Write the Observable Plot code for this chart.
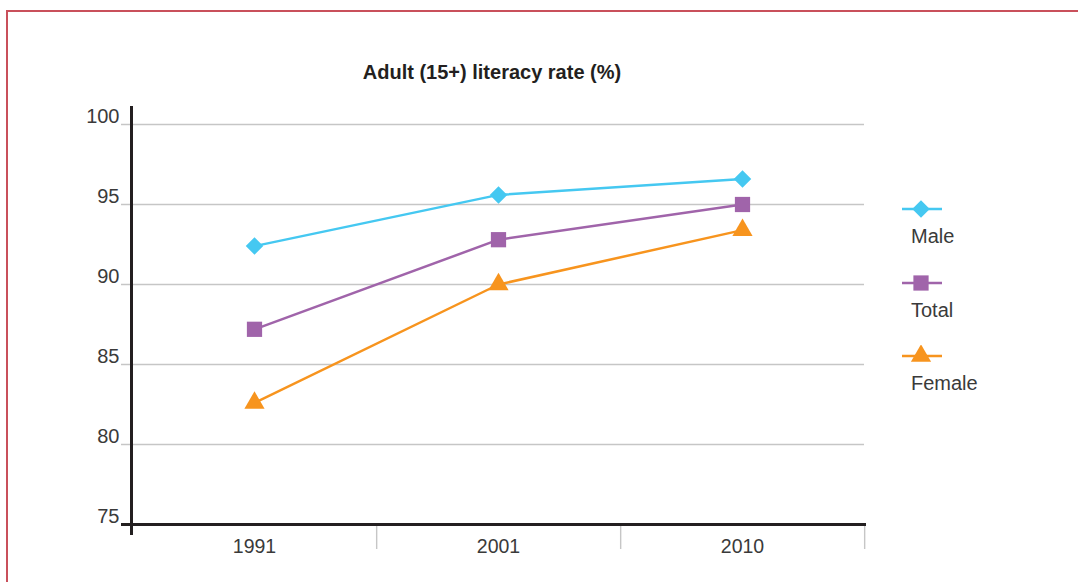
<!DOCTYPE html>
<html><head><meta charset="utf-8">
<script src="https://cdn.jsdelivr.net/npm/d3@7"></script>
<script src="https://cdn.jsdelivr.net/npm/@observablehq/plot@0.6"></script>
<style>
body{margin:0;background:#fff;font-family:"Liberation Sans",Arial,Helvetica,sans-serif;}
#wrap{position:relative;width:1078px;height:582px;overflow:hidden;}
#border{position:absolute;left:6px;top:10px;width:1100px;height:620px;border:2px solid #c9505b;box-sizing:border-box;}
#title{position:absolute;left:0;width:984px;top:62px;text-align:center;font-weight:bold;font-size:20px;line-height:20px;color:#231f20;}
#chart{position:absolute;left:0;top:0;}
.lg-svg{position:absolute;left:900px;}
.lg-text{position:absolute;left:911px;font-size:20px;line-height:20px;color:#3a3a3a;white-space:nowrap;}
</style>
</head><body>
<div id="wrap">
  <div id="border"></div>
  <div id="chart"></div>
  <div id="title">Adult (15+) literacy rate (%)</div>
  <div id="legend"></div>
</div>
<script>
// ---- data ----
const years = ["1991", "2001", "2010"];
const male = [92.4, 95.6, 96.6];
const total = [87.2, 92.8, 95.0];
const female = [82.6, 90.0, 93.4];
const seriesNames = ["Male", "Total", "Female"];
const seriesValues = [male, total, female];
const seriesColors = ["#45c8f1", "#a064aa", "#f7941e"];
const seriesSymbols = ["diamond2", "square", "triangle"];
const seriesR = [7.9, 8.6, 7.5];
const yTicks = [75, 80, 85, 90, 95, 100];

// ---- layout ----
const W = 1078, H = 582, mL = 131, mR = 214, mT = 124, mB = 58;
const step = (W - mL - mR) / years.length;
const plotH = H - mT - mB;

const rows = [];
seriesNames.forEach((s, i) => years.forEach((y, j) => rows.push({series: s, year: y, value: seriesValues[i][j]})));

const seriesMarks = seriesNames.flatMap((s, i) => {
  const d = rows.filter(r => r.series === s);
  return [
    Plot.line(d, {x: "year", y: "value", stroke: seriesColors[i], strokeWidth: 2.5}),
    Plot.dot(d, {x: "year", y: "value", symbol: seriesSymbols[i], r: seriesR[i], fill: seriesColors[i], stroke: "none"})
  ];
});

const chart = Plot.plot({
  width: W, height: H,
  marginLeft: mL, marginRight: mR, marginTop: mT, marginBottom: mB,
  x: {type: "point", domain: years, padding: 0.5, axis: null},
  y: {domain: [75, 100], axis: null},
  style: {fontFamily: '"Liberation Sans", Arial, sans-serif', fontSize: "19px", background: "transparent", color: "#3a3a3a"},
  marks: [
    Plot.ruleY(yTicks.filter(t => t > 75), {y: d => d, stroke: "#c6c6c6", strokeWidth: 1.4, insetLeft: -10}),
    Plot.ruleX(years, {x: d => d, dx: step / 2, stroke: "#c6c6c6", strokeWidth: 1.4, insetTop: plotH + 2, insetBottom: -25}),
    Plot.frame({anchor: "left", stroke: "#231f20", strokeWidth: 3, insetTop: -17, insetBottom: -9}),
    Plot.frame({anchor: "bottom", stroke: "#231f20", strokeWidth: 3, insetLeft: -9}),
    Plot.text(yTicks, {y: d => d, text: d => String(d), frameAnchor: "left", textAnchor: "end", dx: -12, dy: -8, fill: "#3a3a3a", fontSize: 20}),
    Plot.text(years, {x: d => d, text: d => d, frameAnchor: "bottom", dy: 28, fill: "#3a3a3a", fontSize: 19.5}),
    ...seriesMarks
  ]
});
document.getElementById("chart").append(chart);

// ---- legend ----
const symMap = {diamond2: d3.symbolDiamond2, square: d3.symbolSquare, triangle: d3.symbolTriangle};
const legend = d3.select("#legend");
const lgTop = 209, lgStep = 73.7;
seriesNames.forEach((s, i) => {
  const cy = lgTop + i * lgStep;
  const svg = legend.append("svg").attr("class", "lg-svg").attr("width", 44).attr("height", 22)
    .style("top", (cy - 11) + "px");
  svg.append("line").attr("x1", 2).attr("x2", 42).attr("y1", 11).attr("y2", 11)
    .attr("stroke", seriesColors[i]).attr("stroke-width", 2.5);
  svg.append("path").attr("transform", "translate(21,11)")
    .attr("d", d3.symbol(symMap[seriesSymbols[i]], Math.PI * seriesR[i] * seriesR[i])())
    .attr("fill", seriesColors[i]);
  legend.append("div").attr("class", "lg-text").style("top", (cy + 16.8) + "px").text(s);
});
</script>
</body></html>
